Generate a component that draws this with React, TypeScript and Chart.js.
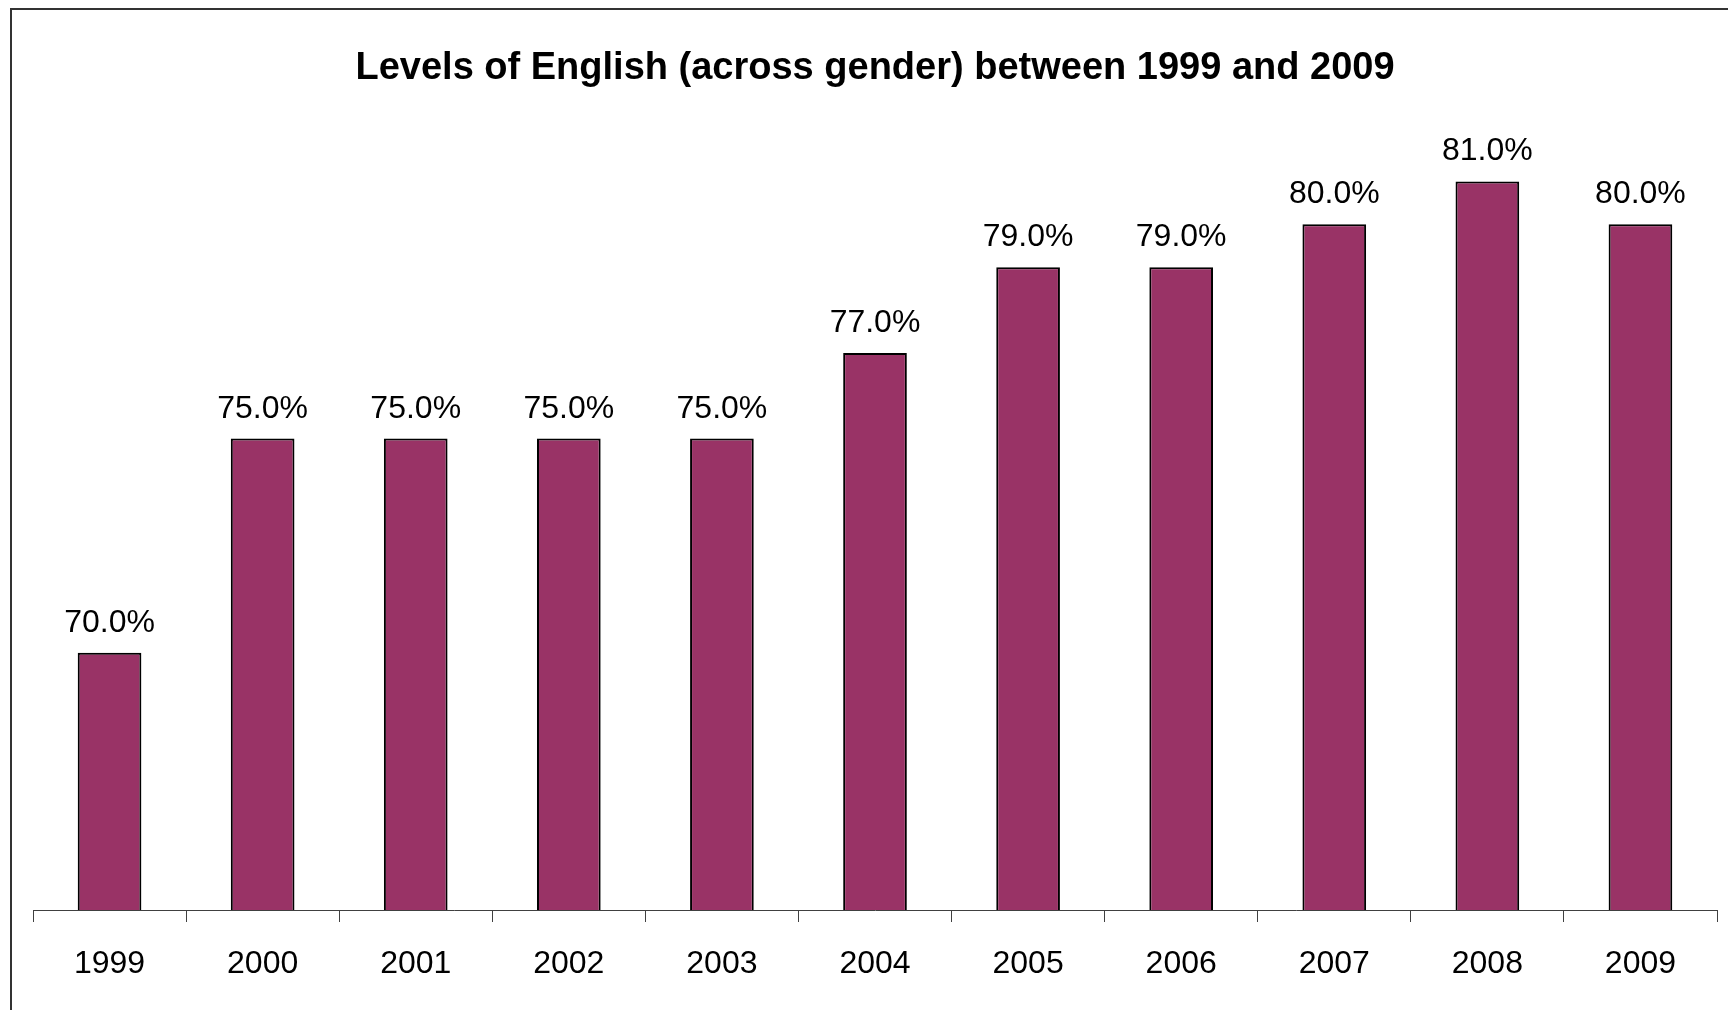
import React, { useEffect, useRef } from "react";
import { Chart, registerables } from "chart.js";

Chart.register(...registerables);

const categories = ["1999", "2000", "2001", "2002", "2003", "2004", "2005", "2006", "2007", "2008", "2009"];
const englishLevels = [70, 75, 75, 75, 75, 77, 79, 79, 80, 81, 80];
const titleText = "Levels of English (across gender) between 1999 and 2009";
const yMin = 64;
const yMax = 82;

const FONT = "'Liberation Sans', Arial, sans-serif";

const framePlugin = {
  id: "frame",
  beforeDraw(chart: any) {
    const ctx = chart.ctx;
    ctx.save();
    ctx.fillStyle = "#ffffff";
    ctx.fillRect(0, 0, chart.width, chart.height);
    ctx.strokeStyle = "#333333";
    ctx.lineWidth = 2;
    ctx.strokeRect(11, 9, chart.width + 40, chart.height + 40);
    ctx.restore();
  },
};

const valueLabelPlugin = {
  id: "valueLabels",
  afterDatasetsDraw(chart: any) {
    const ctx = chart.ctx;
    const meta = chart.getDatasetMeta(0);
    const data = chart.data.datasets[0].data;
    ctx.save();
    ctx.font = `32px ${FONT}`;
    ctx.fillStyle = "#000000";
    ctx.textAlign = "center";
    ctx.textBaseline = "alphabetic";
    meta.data.forEach((bar: any, i: number) => {
      ctx.fillText(`${Number(data[i]).toFixed(1)}%`, bar.x, bar.y - 21);
    });
    ctx.restore();
  },
};

export default function App() {
  const ref = useRef<HTMLCanvasElement | null>(null);

  useEffect(() => {
    if (!ref.current) return;
    const chart = new Chart(ref.current, {
      type: "bar",
      data: {
        labels: categories,
        datasets: [
          {
            data: englishLevels,
            backgroundColor: "#993366",
            borderColor: "#000000",
            borderWidth: 2,
            categoryPercentage: 1,
            barPercentage: 0.416,
          },
        ],
      },
      options: {
        responsive: false,
        animation: false,
        layout: { padding: { left: 33, right: 11, top: 20, bottom: 0 } },
        plugins: {
          legend: { display: false },
          tooltip: { enabled: false },
          title: {
            display: true,
            text: titleText,
            color: "#000000",
            font: { family: FONT, size: 38, weight: "bold" },
            padding: { top: 26, bottom: 47 },
          },
        },
        scales: {
          x: {
            afterFit(scale: any) {
              scale.height = 100;
            },
            grid: {
              display: true,
              drawOnChartArea: false,
              drawTicks: true,
              tickLength: 12,
              color: "#404040",
              lineWidth: 1,
              offset: true,
            },
            border: { display: true, color: "#404040", width: 1 },
            ticks: {
              color: "#000000",
              font: { family: FONT, size: 32 },
              padding: 23,
            },
          },
          y: {
            display: false,
            min: yMin,
            max: yMax,
          },
        },
      },
      plugins: [framePlugin, valueLabelPlugin],
    });
    return () => chart.destroy();
  }, []);

  return (
    <div style={{ position: "absolute", left: 0, top: 0, width: 1728, height: 1010 }}>
      <canvas ref={ref} width={1728} height={1010} style={{ display: "block" }} />
    </div>
  );
}
